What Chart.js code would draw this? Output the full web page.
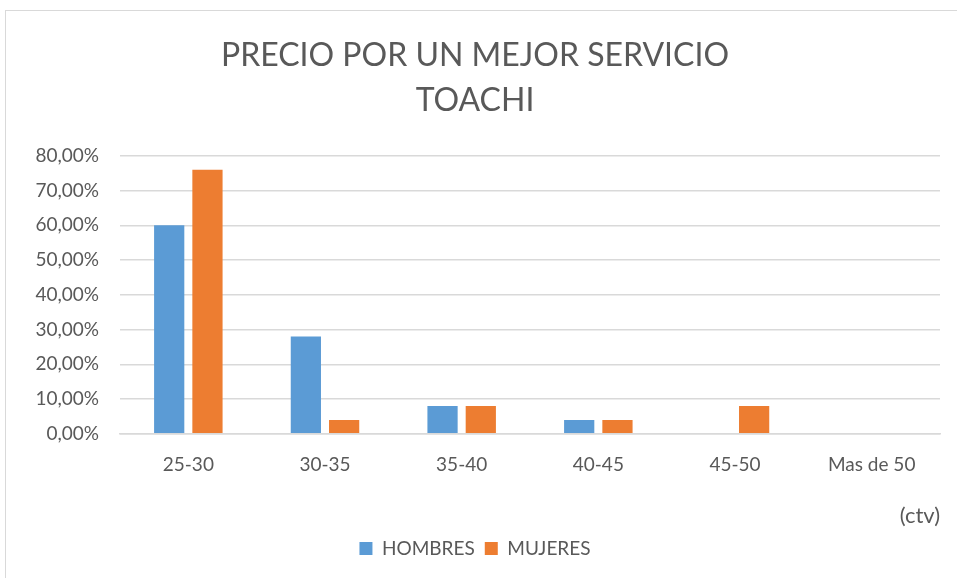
<!DOCTYPE html>
<html>
<head>
<meta charset="utf-8">
<script src="https://cdn.jsdelivr.net/npm/chart.js@4/dist/chart.umd.min.js"></script>
<style>
  body { margin: 0; background: #fff; }
  #wrap { position: relative; width: 957px; height: 578px; }
  #frame { position: absolute; left: 5px; top: 10px; width: 960px; height: 580px; border: 1px solid #d9d9d9; pointer-events: none; }
</style>
</head>
<body>
<div id="wrap">
  <canvas id="chart" width="957" height="578"></canvas>
  <div id="frame"></div>
</div>
<script>
const categories = ['25-30', '30-35', '35-40', '40-45', '45-50', 'Mas de 50'];
const hombres = [60, 28, 8, 4, 0, 0];
const mujeres = [76, 4, 8, 4, 8, 0];
const yTicks = [0, 10, 20, 30, 40, 50, 60, 70, 80];

const textColor = '#595959';
const font = 'Lato, "Liberation Sans", sans-serif';

const ctx = document.getElementById('chart');

new Chart(ctx, {
  type: 'bar',
  data: {
    labels: categories,
    datasets: [{
      label: 'HOMBRES',
      data: hombres,
      backgroundColor: '#5B9BD5',
      categoryPercentage: 0.56,
      barPercentage: 0.79
    }, {
      label: 'MUJERES',
      data: mujeres,
      backgroundColor: '#ED7D31',
      categoryPercentage: 0.56,
      barPercentage: 0.79
    }]
  },
  options: {
    responsive: false,
    animation: false,
    layout: { padding: { left: 10, right: 17, top: 33, bottom: 10 } },
    plugins: {
      title: {
        display: true,
        text: ['PRECIO POR UN MEJOR SERVICIO', 'TOACHI'],
        color: textColor,
        font: { family: font, size: 32, weight: 'normal', lineHeight: 1.42 },
        padding: { top: 0, bottom: 32 }
      },
      legend: {
        position: 'bottom',
        labels: {
          color: textColor,
          font: { family: font, size: 19 },
          boxWidth: 13,
          boxHeight: 13,
          padding: 10
        }
      },
      tooltip: { enabled: false }
    },
    scales: {
      y: {
        min: 0,
        max: 80,
        afterBuildTicks: axis => { axis.ticks = yTicks.map(v => ({ value: v })); },
        afterFit: axis => { axis.width = 110; },
        ticks: {
          color: textColor,
          font: { family: font, size: 19 },
          padding: 21,
          callback: v => v.toFixed(2).replace('.', ',') + '%'
        },
        grid: { color: '#d9d9d9', lineWidth: 1.5, drawTicks: false },
        border: { display: false }
      },
      x: {
        ticks: {
          color: textColor,
          font: { family: font, size: 19 },
          padding: 20
        },
        grid: { display: false, drawTicks: false },
        border: { color: '#d9d9d9', width: 1.5 },
        title: {
          display: true,
          text: '(ctv)',
          align: 'end',
          color: textColor,
          font: { family: font, size: 22 },
          padding: { top: 6, bottom: 0 }
        }
      }
    }
  }
});
</script>
</body>
</html>
